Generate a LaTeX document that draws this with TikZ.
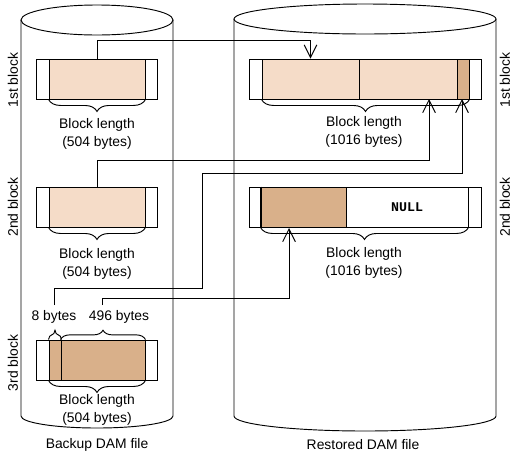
\documentclass[tikz,border=0pt]{standalone}
\usepackage{fontspec}
\setmainfont{Liberation Sans}
\setmonofont{Liberation Mono}
\usepackage{xcolor}
\usetikzlibrary{arrows.meta,decorations.pathreplacing}

\definecolor{lightfill}{HTML}{F5DCC8}
\definecolor{darkfill}{HTML}{D9B08A}

\tikzset{
  blockbox/.style={draw, inner sep=0pt, minimum height=30pt},
  lightpart/.style={blockbox, fill=lightfill},
  darkpart/.style={blockbox, fill=darkfill},
  lbl/.style={font=\fontsize{10.4}{13}\selectfont, align=center, inner sep=0pt},
  sidelbl/.style={lbl, rotate=90},
  flow/.style={-{Straight Barb[length=9.5pt,width=9.5pt]}},
  lowbrace/.style={decorate, decoration={brace, amplitude=9pt}},
  topbrace/.style={decorate, decoration={brace, amplitude=7pt}}
}

\begin{document}
\begin{tikzpicture}[x=0.75pt,y=0.75pt,yscale=-1,xscale=1,line width=0.7pt]

\useasboundingbox (0,0) rectangle (517,458);

% cylinders
\draw   (97,20) ellipse [x radius=76, y radius=15];
\draw   (21,20) -- (21,416) arc [start angle=180, end angle=0, x radius=76, y radius=12] -- (173,20);

\draw   (365,19) ellipse [x radius=131, y radius=15];
\draw   (234,19) -- (234,416) arc [start angle=180, end angle=0, x radius=131, y radius=15] -- (496,19);

% backup blocks
\node [blockbox, minimum width=90.75pt] (lb1) at (96.5,79) {};
\node [lightpart, minimum width=72pt] (ld1) at (97,79) {};

\node [blockbox, minimum width=90.75pt] (lb2) at (96.5,207) {};
\node [lightpart, minimum width=72pt] (ld2) at (97,207) {};

\node [blockbox, minimum width=90.75pt] (lb3) at (96.5,360) {};
\node [darkpart, minimum width=9pt] (ld3a) at (55,360) {};
\node [darkpart, minimum width=63pt] (ld3b) at (103,360) {};

% restored blocks
\node [blockbox, minimum width=174pt] (rb1) at (365,79) {};
\node [lightpart, minimum width=72.75pt] (rd1a) at (310.5,79) {};
\node [lightpart, minimum width=73.5pt] (rd1b) at (408,79) {};
\node [darkpart, minimum width=9pt] (rd1c) at (463,79) {};

\node [blockbox, minimum width=174pt] (rb2) at (365,207) {};
\node [darkpart, minimum width=63.75pt] (rd2a) at (303.5,207) {};
\node [blockbox, minimum width=91.5pt, font=\fontsize{10}{12}\ttfamily\bfseries] (rd2b) at (407,207) {NULL};
\draw [line width=1.5pt] (rd2a.north west) -- (rd2a.south west);

% braces
\draw [lowbrace] (ld1.south east) -- (ld1.south west);
\draw [lowbrace] (ld2.south east) -- (ld2.south west);
\draw [lowbrace] (ld3b.south east) -- (ld3a.south west);
\draw [topbrace] (ld3a.north west) -- (ld3a.north east);
\draw [topbrace] (ld3b.north west) -- (ld3b.north east);
\draw [lowbrace] (rd1c.south east) -- (rd1a.south west);
\draw [lowbrace] (rd2b.south east) -- (rd2a.south west);

% texts
\node [lbl] (t1) at (97,134) {Block length\\(504 bytes)};
\node [lbl] (t2) at (97,264) {Block length\\(504 bytes)};
\node [lbl] (t3) at (97,410) {Block length\\(504 bytes)};
\node [lbl] (t4) at (364,132) {Block length\\(1016 bytes)};
\node [lbl] (t5) at (364,263) {Block length\\(1016 bytes)};

\node [lbl] (lab8) at (54,317) {8 bytes};
\node [lbl] (lab496) at (119,317) {496 bytes};

\node [lbl] (backup) at (97,445) {Backup DAM file};
\node [lbl] (restored) at (363,445) {Restored DAM file};

\node [sidelbl] (s1) at (13,80) {1st block};
\node [sidelbl] (s2) at (13,207) {2nd block};
\node [sidelbl] (s3) at (13,363) {3rd block};
\node [sidelbl] (s4) at (505,80) {1st block};
\node [sidelbl] (s5) at (505,207) {2nd block};

% connectors
\coordinate (in2) at (429,99);
\coordinate (in3) at (462,99);
\coordinate (in4) at (289,228);
\coordinate (from8) at (54,305);
\coordinate (from496) at (102,305);

\draw [flow] (ld1.north) -- ++(0,-18) -| (rd1a.north);
\draw [flow] (ld2.north) -- ++(0,-26) -| (in2);
\draw [flow] (from8) -- ++(0,-17) -| ++(148,-115) -| (in3);
\draw [flow] (from496) -- ++(0,-7) -| (in4);

\end{tikzpicture}
\end{document}
